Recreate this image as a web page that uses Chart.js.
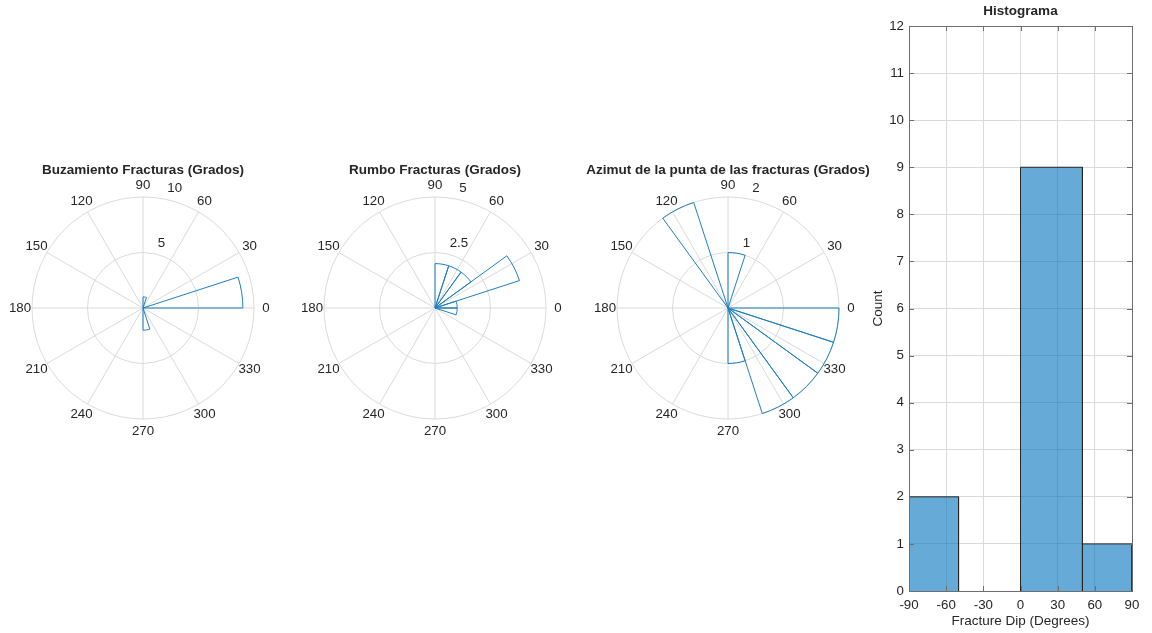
<!DOCTYPE html>
<html lang="es">
<head>
<meta charset="utf-8">
<title>Fracturas</title>
<script src="https://cdn.jsdelivr.net/npm/chart.js@4.4.1/dist/chart.umd.min.js"></script>
<style>
  html, body { margin: 0; padding: 0; background: #fff; }
  body { width: 1152px; height: 633px; position: relative; overflow: hidden; }
  canvas { position: absolute; }
</style>
</head>
<body>
<canvas id="buzamiento" width="300" height="300" style="left:-7px;top:158px"></canvas>
<canvas id="rumbo" width="300" height="300" style="left:285px;top:158px"></canvas>
<canvas id="azimut" width="300" height="300" style="left:578px;top:158px"></canvas>
<canvas id="histograma" width="292" height="633" style="left:860px;top:0px"></canvas>
<script>
// ---- data ----
// Rose diagrams: 20 sectors of 18 degrees, counted counter-clockwise from 0 degrees
const roseBinWidth = 18;
const buzamientoCounts = [9, 0, 0, 0, 1, 0, 0, 0, 0, 0, 0, 0, 0, 0, 0, 2, 0, 0, 0, 0];
const rumboCounts      = [1, 4, 2, 2, 2, 0, 0, 0, 0, 0, 0, 0, 0, 0, 0, 0, 0, 0, 0, 1];
const azimutCounts     = [0, 0, 0, 0, 1, 0, 2, 0, 0, 0, 0, 0, 0, 0, 0, 1, 2, 2, 2, 2];
const angleTicks = [0, 30, 60, 90, 120, 150, 180, 210, 240, 270, 300, 330];
const buzamientoRTicks = [5, 10];
const rumboRTicks = [2.5, 5];
const azimutRTicks = [1, 2];

// Dip histogram
const dipEdges = [-90, -50, 0, 50, 90];
const dipCounts = [2, 0, 9, 1];
const dipTicks = [-90, -60, -30, 0, 30, 60, 90];
const countMax = 12;

// ---- styles ----
const FONT_FAMILY = '"Liberation Sans", Arial, Helvetica, sans-serif';
const TEXT = '#262626';
const GRID = '#dadada';
const ROSE_EDGE = 'rgb(28,126,194)';
const BAR_FILL = 'rgba(0,114,189,0.6)';
const BAR_EDGE = '#262626';
const AXIS = '#6e6e6e';

Chart.defaults.font.family = FONT_FAMILY;
Chart.defaults.font.size = 13.3;
Chart.defaults.color = TEXT;

// Spokes, angle labels, radius labels and title of a rose diagram
const roseDecor = {
  id: 'roseDecor',
  beforeDatasetsDraw(chart) {
    const s = chart.scales.r, ctx = chart.ctx;
    const R = s.getDistanceFromCenterForValue(s.max);
    ctx.save();
    ctx.strokeStyle = GRID;
    ctx.lineWidth = 1;
    angleTicks.forEach(deg => {
      const a = deg * Math.PI / 180;
      ctx.beginPath();
      ctx.moveTo(s.xCenter, s.yCenter);
      ctx.lineTo(s.xCenter + R * Math.cos(a), s.yCenter - R * Math.sin(a));
      ctx.stroke();
    });
    ctx.restore();
  },
  afterDraw(chart, args, opts) {
    const s = chart.scales.r, ctx = chart.ctx;
    const R = s.getDistanceFromCenterForValue(s.max);
    ctx.save();
    ctx.fillStyle = TEXT;
    ctx.font = '13.3px ' + FONT_FAMILY;
    ctx.textAlign = 'center';
    ctx.textBaseline = 'middle';
    angleTicks.forEach(deg => {
      const a = deg * Math.PI / 180;
      ctx.fillText(String(deg), s.xCenter + (R + 12) * Math.cos(a), s.yCenter - (R + 12) * Math.sin(a));
    });
    // radius labels along the 80 degree direction
    const ra = 80 * Math.PI / 180;
    ctx.textAlign = 'left';
    opts.rTicks.forEach(v => {
      const d = s.getDistanceFromCenterForValue(v);
      ctx.fillText(String(v), s.xCenter + d * Math.cos(ra) + 5, s.yCenter - d * Math.sin(ra) - 10);
    });
    ctx.font = 'bold 13.5px ' + FONT_FAMILY;
    ctx.textAlign = 'center';
    ctx.fillText(opts.title, s.xCenter, s.yCenter - 138);
    ctx.restore();
  }
};

function rose(id, title, counts, rTicks) {
  const labels = counts.map((_, i) => (i * roseBinWidth) + '–' + ((i + 1) * roseBinWidth) + '°');
  // Chart.js lays sectors clockwise from its start angle, so feed them in reverse
  const order = counts.map((_, i) => counts.length - 1 - i);
  return new Chart(document.getElementById(id), {
    type: 'polarArea',
    data: {
      labels: order.map(i => labels[i]),
      datasets: [{
        data: order.map(i => counts[i]),
        backgroundColor: 'rgba(255,255,255,0)',
        borderColor: ROSE_EDGE,
        hoverBackgroundColor: 'rgba(255,255,255,0)',
        hoverBorderColor: ROSE_EDGE,
        borderWidth: 1
      }]
    },
    options: {
      responsive: false,
      animation: false,
      events: [],
      layout: { padding: 39 },
      plugins: {
        legend: { display: false },
        tooltip: { enabled: false },
        roseDecor: { title: title, rTicks: rTicks }
      },
      scales: {
        r: {
          type: 'radialLinear',
          min: 0,
          max: rTicks[rTicks.length - 1],
          startAngle: 90,
          ticks: { display: false, stepSize: rTicks[0] },
          grid: { circular: true, color: GRID, lineWidth: 1 },
          angleLines: { display: false },
          pointLabels: { display: false }
        }
      }
    },
    plugins: [roseDecor]
  });
}

rose('buzamiento', 'Buzamiento Fracturas (Grados)', buzamientoCounts, buzamientoRTicks);
rose('rumbo', 'Rumbo Fracturas (Grados)', rumboCounts, rumboRTicks);
rose('azimut', 'Azimut de la punta de las fracturas (Grados)', azimutCounts, azimutRTicks);

// Axes box, inward tick marks and title of the histogram
const histDecor = {
  id: 'histDecor',
  afterDatasetsDraw(chart, args, opts) {
    const { ctx, chartArea: a, scales: { x, y } } = chart;
    const tl = 5;
    ctx.save();
    ctx.strokeStyle = AXIS;
    ctx.lineWidth = 1;
    ctx.strokeRect(Math.round(a.left) + 0.5, Math.round(a.top) + 0.5,
                   Math.round(a.right - a.left), Math.round(a.bottom - a.top));
    ctx.beginPath();
    dipTicks.forEach(v => {
      const px = Math.round(x.getPixelForValue(v)) + 0.5;
      ctx.moveTo(px, a.bottom); ctx.lineTo(px, a.bottom - tl);
      ctx.moveTo(px, a.top); ctx.lineTo(px, a.top + tl);
    });
    y.ticks.forEach(t => {
      const py = Math.round(y.getPixelForValue(t.value)) + 0.5;
      ctx.moveTo(a.left, py); ctx.lineTo(a.left + tl, py);
      ctx.moveTo(a.right, py); ctx.lineTo(a.right - tl, py);
    });
    ctx.stroke();
    ctx.fillStyle = TEXT;
    ctx.font = 'bold 13.5px ' + FONT_FAMILY;
    ctx.textAlign = 'center';
    ctx.textBaseline = 'middle';
    ctx.fillText(opts.title, (a.left + a.right) / 2, 11);
    ctx.restore();
  }
};

// one closed rectangle per bin, from its edges and count
const histDatasets = dipCounts
  .map((c, i) => ({ c: c, lo: dipEdges[i], hi: dipEdges[i + 1] }))
  .filter(b => b.c > 0)
  .map(b => ({
    data: [{ x: b.lo, y: 0 }, { x: b.lo, y: b.c }, { x: b.hi, y: b.c }, { x: b.hi, y: 0 }],
    fill: 'origin',
    backgroundColor: BAR_FILL,
    borderColor: BAR_EDGE,
    borderWidth: 1,
    borderJoinStyle: 'miter',
    pointRadius: 0,
    tension: 0
  }));

new Chart(document.getElementById('histograma'), {
  type: 'line',
  data: { datasets: histDatasets },
  options: {
    responsive: false,
    animation: false,
    events: [],
    layout: { padding: { left: 6, right: 20, top: 26, bottom: 0 } },
    plugins: {
      legend: { display: false },
      tooltip: { enabled: false },
      histDecor: { title: 'Histograma' }
    },
    scales: {
      x: {
        type: 'linear',
        min: dipTicks[0],
        max: dipTicks[dipTicks.length - 1],
        afterBuildTicks(scale) { scale.ticks = dipTicks.map(v => ({ value: v })); },
        ticks: { padding: 6, color: TEXT, maxRotation: 0, autoSkip: false },
        grid: { color: GRID, drawTicks: false },
        border: { display: false },
        title: { display: true, text: 'Fracture Dip (Degrees)', color: TEXT, font: { size: 13.5 }, padding: { top: 4, bottom: 4 } },
        afterFit(scale) { scale.height = 42; }
      },
      y: {
        type: 'linear',
        min: 0,
        max: countMax,
        ticks: { stepSize: 1, padding: 5, color: TEXT },
        grid: { color: GRID, drawTicks: false },
        border: { display: false },
        title: { display: true, text: 'Count', color: TEXT, font: { size: 13.5 }, padding: { top: 4, bottom: 4 } },
        afterFit(scale) { scale.width = 43; }
      }
    }
  },
  plugins: [histDecor]
});
</script>
</body>
</html>
